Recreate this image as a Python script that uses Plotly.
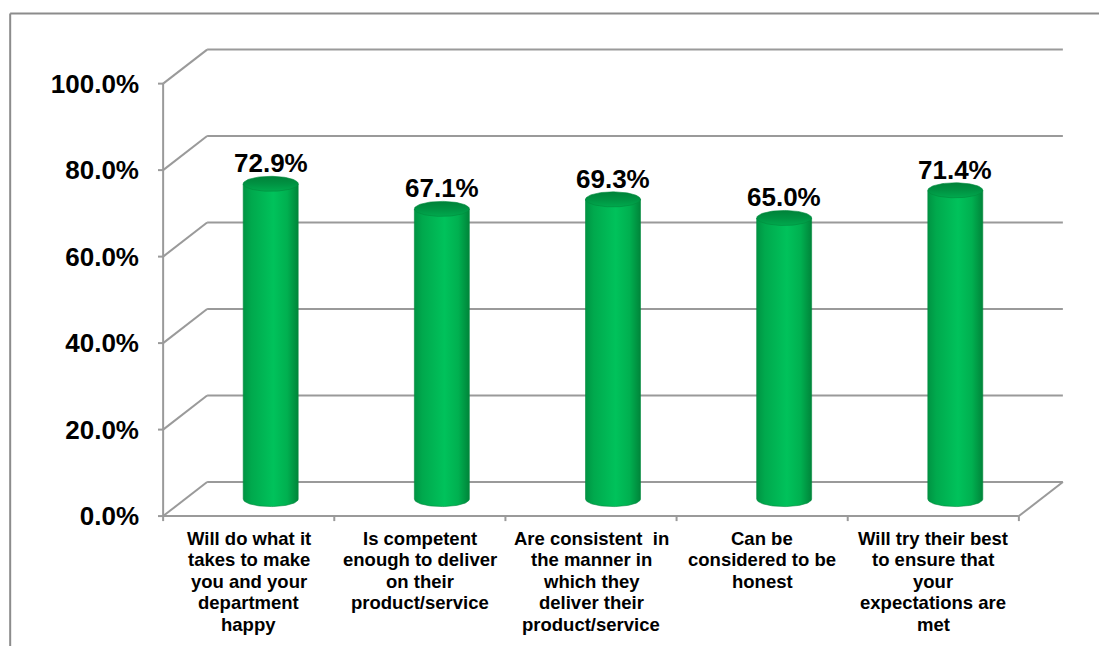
import numpy as np
import plotly.graph_objects as go

# ---------------- data ----------------
categories = [
    ["Will do what it", "takes to make", "you and your", "department", "happy"],
    ["Is competent", "enough to deliver", "on their", "product/service"],
    ["Are consistent \u00a0in", "the manner in", "which they", "deliver their", "product/service"],
    ["Can be", "considered to be", "honest"],
    ["Will try their best", "to ensure that", "your", "expectations are", "met"],
]
values = [72.9, 67.1, 69.3, 65.0, 71.4]
tick_values = [0, 20, 40, 60, 80, 100]
tick_labels = ["0.0%", "20.0%", "40.0%", "60.0%", "80.0%", "100.0%"]

# ---------------- geometry / style ----------------
W, H = 1107, 646
OFF = 8             # page body margin offset
PX_CAT = 171.2      # pixels per category
PX_PCT = 4.32       # pixels per percent
X0_PX, Y0_PX = 163 - OFF, 516 - OFF
DX = 44 / PX_CAT    # 3D depth offset (x, in category units)
DY = 34 / PX_PCT    # 3D depth offset (y, in percent units)
PAD_X = 0.03
PAD_Y0, PAD_Y1 = 1.6, 0.6
n = len(values)
xr = [-PAD_X, n + DX + PAD_X]
yr = [-PAD_Y0, 100 + DY + PAD_Y1]
ml = X0_PX - PAD_X * PX_CAT
mr = W - (ml + (xr[1] - xr[0]) * PX_CAT)
mb = H - (Y0_PX + PAD_Y0 * PX_PCT)
mt = H - mb - (yr[1] - yr[0]) * PX_PCT

FONT = "Liberation Sans, Arial, sans-serif"
GRID = "#9a9a9a"
LW = 2

fig = go.Figure()

def add_line(xs, ys, color=GRID, width=LW):
    fig.add_trace(go.Scatter(x=xs, y=ys, mode="lines", line=dict(color=color, width=width),
                             hoverinfo="skip", showlegend=False))

# back wall and side wall
for v in tick_values:
    add_line([DX, n + DX], [v + DY, v + DY])
    add_line([0, DX], [v, v + DY])
# floor
add_line([0, n], [0, 0])
add_line([n, n + DX], [0, DY])
# front axis
add_line([0, 0], [0, 100])
for v in tick_values:
    add_line([-8 / PX_CAT, 0], [v, v])
for i in range(n + 1):
    add_line([i, i], [0, -5 / PX_PCT])

# cylinders
r = 27.5 / PX_CAT
ry = 7.5 / PX_PCT
body_scale = [[0.0, "#009443"], [0.15, "#00a94d"], [0.55, "#00c25b"], [0.8, "#00b050"],
              [1.0, "#00853a"]]
cap_scale = [[0.0, "#00a94d"], [0.5, "#009242"], [1.0, "#008239"]]
annotations = []
for i, v in enumerate(values):
    cx = i + 0.5 + DX / 2
    yb = DY / 2
    yt = v + DY / 2
    t = np.linspace(np.pi, 2 * np.pi, 50)
    bx = list(cx + r * np.cos(t)) + [cx + r, cx - r, cx - r]
    by = list(yb + ry * np.sin(t)) + [yt, yt, yb]
    fig.add_trace(go.Scatter(x=bx, y=by, mode="lines", fill="toself",
                             fillgradient=dict(type="horizontal", colorscale=body_scale),
                             line=dict(width=0.6, color="#008a3c"),
                             hoverinfo="skip", showlegend=False))
    t2 = np.linspace(0, 2 * np.pi, 90)
    fig.add_trace(go.Scatter(x=cx + r * np.cos(t2), y=yt + ry * np.sin(t2), mode="lines",
                             fill="toself",
                             fillgradient=dict(type="vertical", colorscale=cap_scale),
                             line=dict(width=0.6, color="#008a3c"),
                             hoverinfo="skip", showlegend=False))
    annotations.append(dict(x=cx, y=yt + ry, xref="x", yref="y", text=f"{v:.1f}%",
                            showarrow=False, yanchor="bottom", yshift=-4,
                            font=dict(family=FONT, size=26, color="black", weight="bold")))

# category labels
for i, lines in enumerate(categories):
    for j, line in enumerate(lines):
        annotations.append(dict(x=i + 0.5, y=0, xref="x", yref="y", text=line,
                                showarrow=False, yanchor="middle", yshift=-(22 + j * 21.6),
                                font=dict(family=FONT, size=18.5, color="black", weight="bold")))

# outer frame (partial, runs off canvas)
pw, ph = W - ml - mr, H - mt - mb
def pxp(p): return (p - ml) / pw
def pyp(p): return (H - mb - p) / ph
shapes = [
    dict(type="line", xref="paper", yref="paper", x0=pxp(10 - OFF), y0=pyp(14 - OFF),
         x1=pxp(W + 20), y1=pyp(14 - OFF), line=dict(color="#8c8c8c", width=2)),
    dict(type="line", xref="paper", yref="paper", x0=pxp(10 - OFF), y0=pyp(14 - OFF),
         x1=pxp(10 - OFF), y1=pyp(H + 20), line=dict(color="#8c8c8c", width=2)),
]

fig.update_layout(
    width=W, height=H,
    margin=dict(l=ml, r=mr, t=mt, b=mb, pad=0),
    paper_bgcolor="white", plot_bgcolor="white",
    xaxis=dict(range=xr, showgrid=False, zeroline=False, showline=False,
               showticklabels=False, ticks="", fixedrange=True),
    yaxis=dict(range=yr, showgrid=False, zeroline=False, showline=False,
               tickvals=tick_values, ticktext=tick_labels, ticks="",
               ticklabelstandoff=18,
               tickfont=dict(family=FONT, size=26, color="black", weight="bold"),
               fixedrange=True),
    annotations=annotations,
    shapes=shapes,
    showlegend=False,
)

fig.write_html("out.html")
